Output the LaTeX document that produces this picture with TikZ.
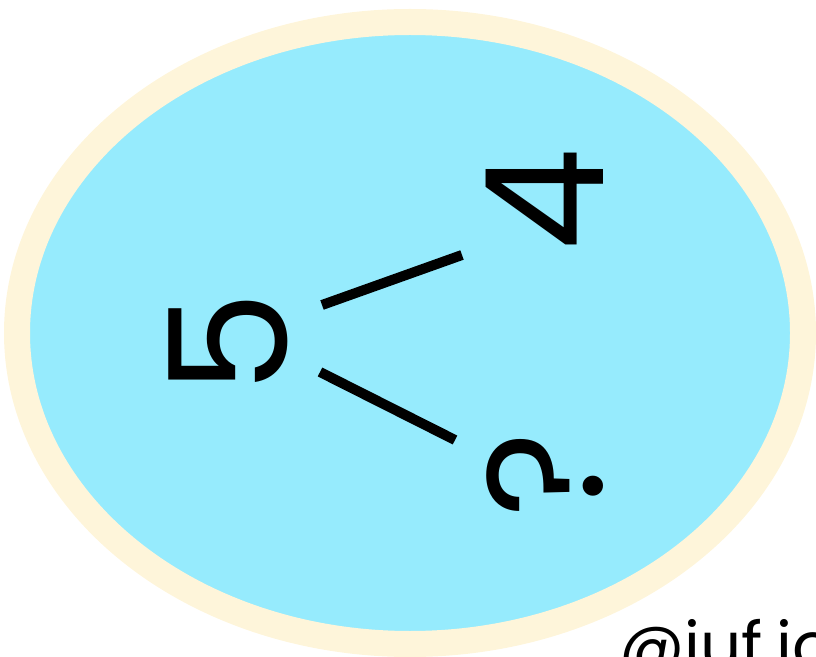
\documentclass[tikz,border=0pt]{standalone}
\usepackage{fontspec}
\setmainfont{Poppins}
\usepackage{tikz}
\usetikzlibrary{positioning,calc}
\definecolor{ringcream}{RGB}{254,245,218}
\definecolor{poolcyan}{RGB}{150,235,253}

\begin{document}
\begin{tikzpicture}[
  x=0.03cm, y=-0.03cm,
  digit/.style={font=\fontsize{140}{140}\selectfont,rotate=90,inner sep=0pt},
  branch/.style={line width=0.3cm,line cap=butt},
  tag/.style={font=\fontsize{55}{55}\selectfont,anchor=base west,inner sep=0pt},
]
\path[use as bounding box,clip] (0,0) rectangle (816,657);
% background disc
\draw[fill=poolcyan,draw=ringcream,line width=0.78cm] (410,333) ellipse [x radius=393,y radius=311];
\node[digit] (n5) at (228,343) {5};
\node[digit] (n4) at (545,200) {4};
\node[digit] (nq) at (545,475) {?};
\draw[branch] ([shift={(94,-38)}]n5.center) -- ([shift={(-83,55)}]n4.center);
\draw[branch] ([shift={(92,29)}]n5.center) -- ([shift={(-90,-35)}]nq.center);
\node[tag] (mark) at (619,668) {@iuf.io};
\end{tikzpicture}
\end{document}
